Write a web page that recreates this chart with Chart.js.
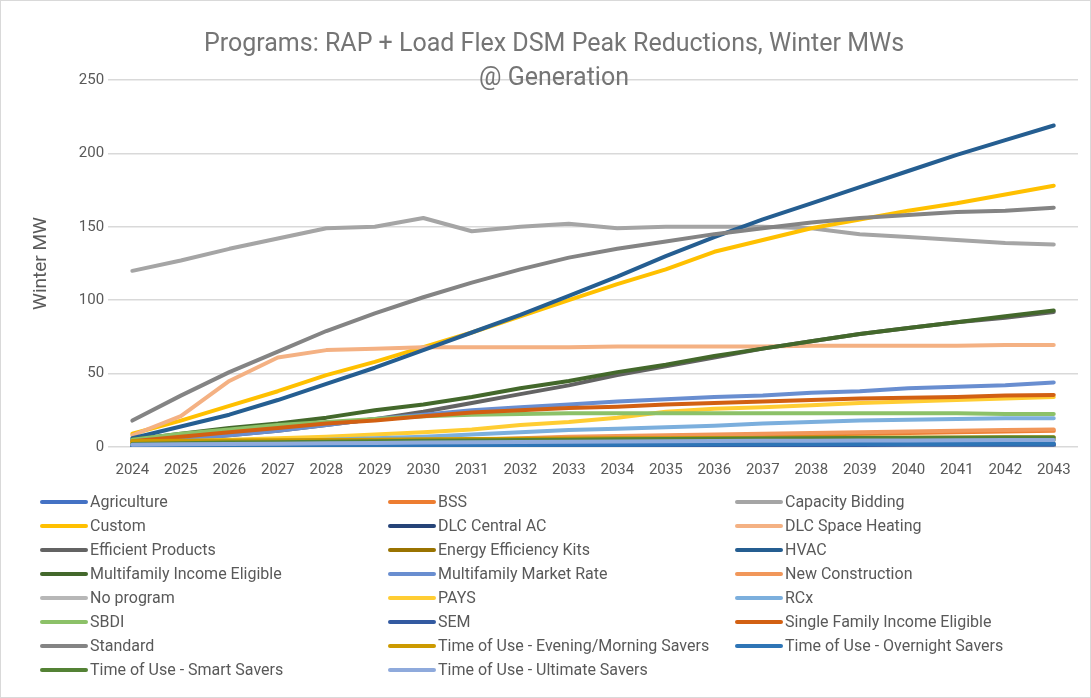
<!DOCTYPE html>
<html>
<head>
<meta charset="utf-8">
<script src="https://cdn.jsdelivr.net/npm/chart.js@4.4.1/dist/chart.umd.min.js"></script>
<style>
  body { margin: 0; background: #fff; }
  #wrap { position: relative; width: 1091px; height: 698px; }
  #chart1 { position: absolute; left: 0; top: 0; }
  #frame { position: absolute; left: 0; top: 0; width: 1089px; height: 696px; border: 1px solid #d9d9d9; pointer-events: none; }
  #legend {
    position: absolute; left: 40px; top: 490px;
    display: grid; grid-template-columns: 348px 347px 300px;
    font-family: "Roboto", sans-serif;
    font-size: 16px; color: #595959;
  }
  #legend div { height: 24px; line-height: 24px; white-space: nowrap; }
  #legend span.sw { display: inline-block; width: 48px; height: 4px; border-radius: 2px; vertical-align: middle; margin-right: 2px; position: relative; top: -1px; }
</style>
</head>
<body>
<div id="wrap">
  <canvas id="chart1" width="1091" height="698"></canvas>
  <div id="legend"></div>
  <div id="frame"></div>
</div>
<script>
var years = ["2024","2025","2026","2027","2028","2029","2030","2031","2032","2033","2034","2035","2036","2037","2038","2039","2040","2041","2042","2043"];
var yTicks = [0, 50, 100, 150, 200, 250];

var agriculture = [0.5,0.6,0.7,0.8,0.9,1,1.1,1.2,1.3,1.4,1.5,1.6,1.7,1.8,1.9,2,2,2.1,2.2,2.3];
var bss = [1,1.5,2,2.5,3,3.5,4,5,5.5,6,6.5,7,7.5,8,8.5,9,9.5,10,10.5,11];
var capacityBidding = [120,127,135,142,149,150,156,147,150,152,149,150,150,150,149,145,143,141,139,138];
var custom = [9,18,28,38,49,58,68,78,89,100,111,121,133,141,149,155,161,166,172,178];
var dlcCentralAC = [0.2,0.3,0.4,0.5,0.5,0.6,0.6,0.7,0.7,0.8,0.8,0.8,0.9,0.9,0.9,1,1,1,1,1];
var dlcSpaceHeating = [8,21,45,61,66,67,68,68,68,68,68.5,68.5,68.5,68.5,69,69,69,69,69.5,69.5];
var efficientProducts = [3,5,8,11,15,19,24,30,36,42,49,55,61,67,72,77,81,85,88,92];
var energyKits = [3,3.1,3.2,3.3,3.4,3.5,3.6,3.7,3.8,3.9,4,4.1,4.2,4.3,4.4,4.5,4.6,4.7,4.8,4.9];
var hvac = [6,14,22,32,43,54,66,78,90,103,116,130,143,155,166,177,188,199,209,219];
var mfIncome = [5,9,13,16,20,25,29,34,40,45,51,56,62,67,72,77,81,85,89,93];
var mfMarket = [2,5,8,11,15,19,22,25,27,29,31,32.5,34,35,37,38,40,41,42,44];
var newConstruction = [1,1.5,2,2.5,3,3.5,4.5,5,6,7,7.5,8,8.5,9,9.5,10,10.5,11,11.5,12];
var noProgram = [0.1,0.1,0.1,0.1,0.1,0.1,0.1,0.1,0.1,0.1,0.1,0.1,0.1,0.1,0.1,0.1,0.1,0.1,0.1,0.1];
var pays = [3,4,5,6,7,8.5,10,12,15,17,20,24,26,27,28.5,30,31,32,33,34];
var rcx = [1,2,3,4,5,6,7,8.5,10,11.5,12.5,13.5,14.5,16,17,18,18.5,19,19.5,19.5];
var sbdi = [5,9,12,15,17,19,21,22,22.5,23,23,23,23,23,23,23,23,23,22.5,22.5];
var sem = [0.4,0.5,0.6,0.7,0.8,0.9,1,1,1.1,1.1,1.2,1.2,1.3,1.3,1.4,1.4,1.5,1.5,1.5,1.6];
var sfIncome = [4,7,10,13,16,18,21,23.5,25,26.5,27.5,29,30,31,32,33,33.5,34,35,35.5];
var standard = [18,35,51,65,79,91,102,112,121,129,135,140,145,149,153,156,158,160,161,163];
var touEveningMorning = [4,4.2,4.4,4.6,4.8,5,5.2,5.4,5.6,5.8,6,6,6.2,6.2,6.4,6.4,6.5,6.5,6.6,6.6];
var touOvernight = [0.6,0.7,0.8,0.9,1,1.1,1.2,1.3,1.4,1.5,1.6,1.7,1.8,1.9,2,2,2.1,2.1,2.2,2.2];
var touSmart = [2,2.5,3,3.3,3.6,4,4.2,4.5,4.7,5,5.2,5.4,5.6,5.8,6,6.1,6.2,6.3,6.4,6.5];
var touUltimate = [1.5,1.8,2,2.2,2.5,2.7,3,3.2,3.4,3.6,3.8,4,4.1,4.2,4.3,4.4,4.5,4.6,4.7,4.8];

var names = ["Agriculture","BSS","Capacity Bidding","Custom","DLC Central AC","DLC Space Heating",
  "Efficient Products","Energy Efficiency Kits","HVAC","Multifamily Income Eligible","Multifamily Market Rate","New Construction",
  "No program","PAYS","RCx","SBDI","SEM","Single Family Income Eligible",
  "Standard","Time of Use -  Evening/Morning Savers","Time of Use - Overnight Savers","Time of Use - Smart Savers","Time of Use - Ultimate Savers"];
var series = [agriculture, bss, capacityBidding, custom, dlcCentralAC, dlcSpaceHeating,
  efficientProducts, energyKits, hvac, mfIncome, mfMarket, newConstruction,
  noProgram, pays, rcx, sbdi, sem, sfIncome,
  standard, touEveningMorning, touOvernight, touSmart, touUltimate];
var colors = ["#4472C4","#ED7D31","#A5A5A5","#FFC000","#264478","#F4B183",
  "#636363","#997300","#255E91","#43682B","#698ED0","#F1975A",
  "#B7B7B7","#FFCD33","#7CAFDD","#8CC168","#335AA1","#D26012",
  "#848484","#CC9A00","#2E75B6","#548235","#8FAADC"];

var fontFam = "'Roboto', sans-serif";

function drawGraph() {
  var datasets = [];
  for (var i = 0; i < series.length; i++) {
    datasets.push({
      label: names[i],
      data: series[i],
      borderColor: colors[i],
      backgroundColor: colors[i],
      borderWidth: 4,
      borderCapStyle: "round",
      borderJoinStyle: "round",
      pointRadius: 0,
      tension: 0,
      order: series.length - i
    });
  }

  var ctx = document.getElementById("chart1").getContext("2d");
  var myChart = new Chart(ctx, {
    type: "line",
    data: { labels: years, datasets: datasets },
    options: {
      responsive: false,
      animation: false,
      layout: { padding: { left: 30, right: 13, top: 0, bottom: 213 } },
      plugins: {
        legend: { display: false },
        tooltip: { enabled: false },
        title: {
          display: true,
          text: ["Programs: RAP + Load Flex DSM Peak Reductions, Winter MWs", "@ Generation"],
          color: "#757575",
          font: { family: fontFam, size: 25, weight: "normal", lineHeight: 1.38 },
          padding: { top: 27, bottom: -16 }
        }
      },
      scales: {
        x: {
          offset: true,
          grid: { display: false },
          border: { display: false },
          ticks: { color: "#595959", font: { family: fontFam, size: 15 }, padding: 6, maxRotation: 0, autoSkip: false }
        },
        y: {
          min: 0,
          max: 250,
          afterBuildTicks: function (axis) {
            axis.ticks = yTicks.map(function (v) { return { value: v }; });
          },
          grid: { color: "#d9d9d9", lineWidth: 1.5, drawTicks: false },
          border: { display: false },
          ticks: { color: "#595959", font: { family: fontFam, size: 15 }, padding: 4 },
          title: {
            display: true,
            text: "Winter MW",
            color: "#595959",
            font: { family: fontFam, size: 19 },
            padding: { top: 0, bottom: 22 }
          }
        }
      }
    }
  });

  var leg = document.getElementById("legend");
  for (var j = 0; j < datasets.length; j++) {
    var d = document.createElement("div");
    d.innerHTML = '<span class="sw" style="background:' + datasets[j].borderColor + '"></span>' + datasets[j].label;
    leg.appendChild(d);
  }
}
window.onload = drawGraph;
</script>
</body>
</html>
